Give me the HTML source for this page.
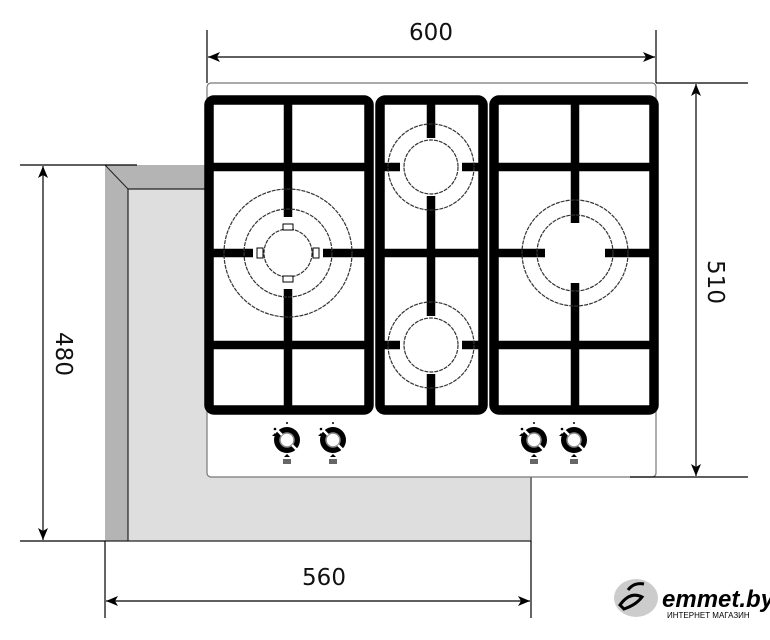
<!DOCTYPE html>
<html><head><meta charset="utf-8"><style>html,body{margin:0;padding:0;background:#fff}svg{display:block}</style></head><body>
<svg width="770" height="640" viewBox="0 0 770 640" xmlns="http://www.w3.org/2000/svg" font-family="'DejaVu Sans','Liberation Sans',sans-serif">
<defs>
<marker id="a" viewBox="0 0 12 10" refX="12" refY="5" markerWidth="12" markerHeight="10" markerUnits="userSpaceOnUse" orient="auto-start-reverse"><path d="M0,0 L12,5 L0,10 L3,5 Z" fill="#000"/></marker>
</defs>
<polygon points="105,165 530,165 530,541 105,541" fill="#dedede"/>
<polygon points="105,165 205,165 205,189 128,189 128,541 105,541" fill="#b4b4b4"/>
<line x1="105" y1="165" x2="128" y2="189" stroke="#222" stroke-width="1"/>
<polyline points="128,541 128,189 205,189" fill="none" stroke="#222" stroke-width="1.2"/>
<polyline points="105,541 531,541 531,477" fill="none" stroke="#222" stroke-width="1.2"/>
<rect x="207" y="83" width="449" height="394" rx="4" fill="#fff" stroke="#777" stroke-width="1.2"/>
<g fill="none" stroke="#000" stroke-width="9.5">
<rect x="209" y="100" width="160" height="310" rx="5"/>
<rect x="380" y="100" width="103" height="310" rx="5"/>
<rect x="494" y="100" width="160" height="310" rx="5"/>
</g>
<g stroke="#000" stroke-width="8.5">
<line x1="209" y1="167" x2="369" y2="167"/><line x1="209" y1="345" x2="369" y2="345"/>
<line x1="288" y1="100" x2="288" y2="217"/><line x1="288" y1="289" x2="288" y2="410"/>
<line x1="209" y1="253" x2="253" y2="253"/><line x1="323" y1="253" x2="369" y2="253"/>
<line x1="380" y1="253" x2="483" y2="253"/>
<line x1="431" y1="100" x2="431" y2="138"/><line x1="431" y1="196" x2="431" y2="316"/><line x1="431" y1="374" x2="431" y2="410"/>
<line x1="380" y1="167" x2="400" y2="167"/><line x1="462" y1="167" x2="483" y2="167"/>
<line x1="380" y1="345" x2="400" y2="345"/><line x1="462" y1="345" x2="483" y2="345"/>
<line x1="494" y1="167" x2="654" y2="167"/><line x1="494" y1="345" x2="654" y2="345"/>
<line x1="575" y1="100" x2="575" y2="223"/><line x1="575" y1="283" x2="575" y2="410"/>
<line x1="494" y1="253" x2="545" y2="253"/><line x1="605" y1="253" x2="654" y2="253"/>
</g>
<g fill="none" stroke="#333" stroke-width="1.2" stroke-dasharray="4,1">
<circle cx="288" cy="253" r="64"/><circle cx="288" cy="253" r="44"/><circle cx="288" cy="253" r="24"/>
<circle cx="431" cy="167" r="43"/><circle cx="431" cy="167" r="27"/>
<circle cx="431" cy="345" r="43"/><circle cx="431" cy="345" r="27"/>
<circle cx="575" cy="253" r="53"/><circle cx="575" cy="253" r="38"/>
</g>
<g fill="#fff" stroke="#000" stroke-width="1">
<rect x="283" y="224" width="10" height="6"/><rect x="283" y="276" width="10" height="6"/>
<rect x="257" y="248" width="6" height="10"/><rect x="313" y="248" width="6" height="10"/>
</g>
<g id="k">
<circle cx="287" cy="440" r="13" fill="#000"/>
<circle cx="287" cy="440" r="7" fill="#fff" stroke="#888" stroke-width="1.5"/>
<line x1="277" y1="430" x2="282" y2="435" stroke="#fff" stroke-width="2.5"/>
<line x1="292" y1="445" x2="297" y2="450" stroke="#fff" stroke-width="2.5"/>
<circle cx="287" cy="423" r="1" fill="#000"/><circle cx="275" cy="429" r="1.3" fill="#000"/><path d="M272,436 l3,-3 l3,3z" fill="#000"/>
<path d="M284,457 l3,-3 l3,3z" fill="#000"/><rect x="283" y="459" width="8" height="5" fill="#666"/>
</g>
<use href="#k" x="46"/><use href="#k" x="247"/><use href="#k" x="287"/>
<g stroke="#000" stroke-width="1.2" fill="none">
<line x1="207" y1="30" x2="207" y2="83"/><line x1="656" y1="30" x2="656" y2="83"/>
<line x1="208" y1="57" x2="655" y2="57" marker-start="url(#a)" marker-end="url(#a)"/>
<line x1="656" y1="83" x2="748" y2="83"/><line x1="630" y1="477" x2="748" y2="477"/>
<line x1="696" y1="84" x2="696" y2="476" marker-start="url(#a)" marker-end="url(#a)"/>
<line x1="20" y1="165" x2="137" y2="165"/><line x1="20" y1="541" x2="105" y2="541"/>
<line x1="43" y1="166" x2="43" y2="540" marker-start="url(#a)" marker-end="url(#a)"/>
<line x1="105" y1="541" x2="105" y2="618"/><line x1="531" y1="541" x2="531" y2="618"/>
<line x1="106" y1="601" x2="530" y2="601" marker-start="url(#a)" marker-end="url(#a)"/>
</g>
<g font-size="23" fill="#111" text-anchor="middle">
<text x="431" y="40">600</text>
<text x="324" y="585">560</text>
<text transform="translate(708,282) rotate(90)">510</text>
<text transform="translate(56,354) rotate(90)">480</text>
</g>
<ellipse cx="636" cy="598" rx="22" ry="19" fill="#ccc"/>
<path d="M620,605 q10,-14 22,-8 q-6,8 -18,12z M628,590 q6,-8 16,-6" fill="none" stroke="#000" stroke-width="3"/>
<text x="662" y="607" font-size="24" font-style="italic" font-weight="bold" fill="#000" font-family="'Liberation Sans',sans-serif">emmet.by</text>
<text x="667" y="618" font-size="8" fill="#000" font-family="'Liberation Sans',sans-serif">ИНТЕРНЕТ МАГАЗИН</text>
</svg>
</body></html>
